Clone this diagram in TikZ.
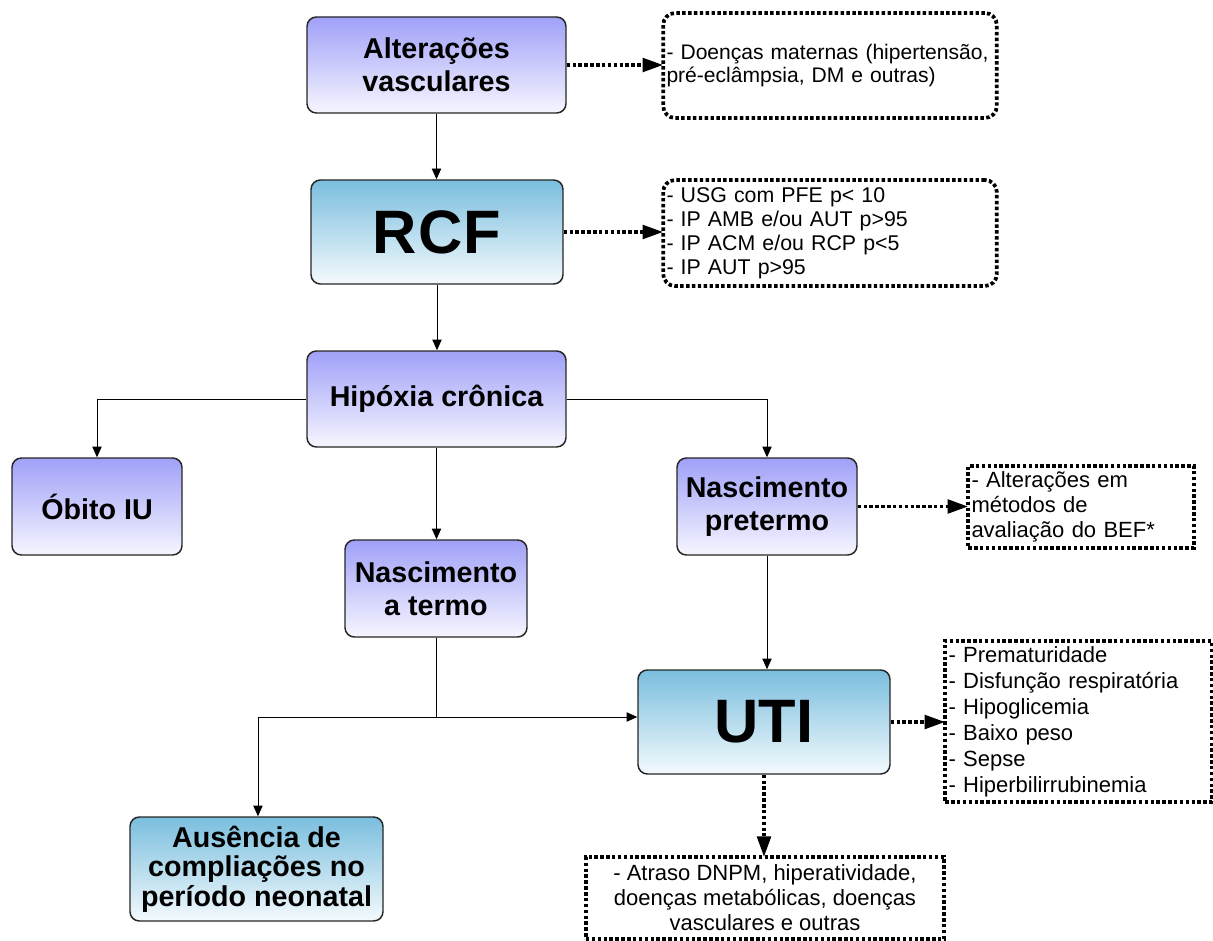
\documentclass[tikz,border=0pt]{standalone}
\usepackage{fontspec}
\setmainfont{Liberation Sans}
\usetikzlibrary{arrows.meta}
\definecolor{ptop}{RGB}{160,160,248}
\definecolor{pbot}{RGB}{246,246,255}
\definecolor{btop}{RGB}{122,190,222}
\definecolor{bbot}{RGB}{244,250,253}
\tikzset{
  solidbox/.style={draw=black!85, line width=1.1pt, rounded corners=7pt, align=center,
    font=\fontsize{21.5}{24.5}\selectfont\bfseries, inner sep=2pt},
  pbox/.style={solidbox, top color=ptop, bottom color=pbot},
  bbox/.style={solidbox, top color=btop, bottom color=bbot},
  dbox/.style={draw=black, line width=2.8pt, dash pattern=on 2.6pt off 1.8pt, align=left,
    inner xsep=2.5pt, inner ysep=2pt, fill=white},
  conn/.style={draw=black, line width=0.6pt, -{Triangle[length=8pt,width=7pt]}},
  dconn/.style={draw=black, line width=2.8pt, dash pattern=on 2.6pt off 1.8pt,
    -{Triangle[length=15pt,width=11pt,line width=0pt]}, shorten >=-1pt},
  plain/.style={draw=black, line width=0.6pt}
}
\begin{document}
\begin{tikzpicture}[x=0.75pt,y=-0.75pt]
\useasboundingbox (0,0) rectangle (1213,941);
% main boxes
\node[pbox, minimum width=259*0.75pt, minimum height=96*0.75pt] (alt) at (436.5,65) {Alterações\\vasculares};
\node[bbox, minimum width=252*0.75pt, minimum height=104*0.75pt, font=\fontsize{46}{50}\selectfont\bfseries] (rcf) at (437,232) {R\kern1pt C\kern1pt F};
\node[pbox, minimum width=259*0.75pt, minimum height=96*0.75pt] (hip) at (436.5,399) {Hipóxia crônica};
\node[pbox, minimum width=170*0.75pt, minimum height=97*0.75pt] (obi) at (97,506.5) {Óbito IU};
\node[pbox, minimum width=180*0.75pt, minimum height=97*0.75pt] (pre) at (767,506.5) {Nascimento\\pretermo};
\node[pbox, minimum width=182*0.75pt, minimum height=97*0.75pt] (ter) at (436,588.5) {Nascimento\\a termo};
\node[bbox, minimum width=252*0.75pt, minimum height=104*0.75pt, font=\fontsize{46}{50}\selectfont\bfseries] (uti) at (764,722) {UTI};
\node[bbox, minimum width=253*0.75pt, minimum height=104*0.75pt, font=\fontsize{21.5}{22}\selectfont\bfseries] (aus) at (256.5,869) {Ausência de\\compliações no\\período neonatal};
% dotted boxes
\node[dbox, rounded corners=9pt, minimum height=105*0.75pt, text width=(332-5)*0.75pt, font=\fontsize{15.8}{17.5}\selectfont] (doe) at (830,65.5)
  {- Doenças maternas (hipertensão,\\pré-eclâmpsia, DM e outras)};
\node[dbox, rounded corners=9pt, minimum height=106*0.75pt, text width=(332-5)*0.75pt, font=\fontsize{16}{18}\selectfont] (rcb) at (830,233)
  {- USG com PFE p< 10\\- IP AMB e/ou AUT p>95\\- IP ACM e/ou RCP p<5\\- IP AUT p>95};
\node[dbox, minimum height=82*0.75pt, text width=(224-5)*0.75pt, font=\fontsize{16.5}{18.8}\selectfont] (bef) at (1081,507)
  {- Alterações em\\métodos de\\avaliação do BEF*};
\node[dbox, minimum height=161*0.75pt, text width=(265-5)*0.75pt, font=\fontsize{16.5}{19.5}\selectfont] (lst) at (1078.5,721.5)
  {- Prematuridade\\- Disfunção respiratória\\- Hipoglicemia\\- Baixo peso\\- Sepse\\- Hiperbilirrubinemia};
\node[dbox, minimum width=358*0.75pt, minimum height=82*0.75pt, align=center, font=\fontsize{16.5}{18.8}\selectfont] (out) at (765,898)
  {- Atraso DNPM, hiperatividade,\\doenças metabólicas, doenças\\vasculares e outras};
% connectors
\coordinate (j) at (436,717);
\draw[conn] (alt.south) -- (alt.south |- rcf.north);
\draw[conn] (rcf.south) -- (rcf.south |- hip.north);
\draw[conn] (hip.west) -| (obi.north);
\draw[conn] (hip.east) -| (pre.north);
\draw[conn] (hip.south) -- (hip.south |- ter.north);
\draw[plain] (ter.south) -- (j);
\draw[conn] (j) -- (uti.west |- j);
\draw[conn] (j) -| ([xshift=1.1pt]aus.north);
\draw[conn] (pre.south) -- (pre.south |- uti.north);
\draw[dconn] (alt.east) -- (alt.east -| doe.west);
\draw[dconn] (rcf.east) -- (rcf.east -| rcb.west);
\draw[dconn] (pre.east) -- (pre.east -| bef.west);
\draw[dconn] (uti.east) -- (uti.east -| lst.west);
\draw[dconn] (uti.south) -- (uti.south |- out.north);
\end{tikzpicture}
\end{document}
